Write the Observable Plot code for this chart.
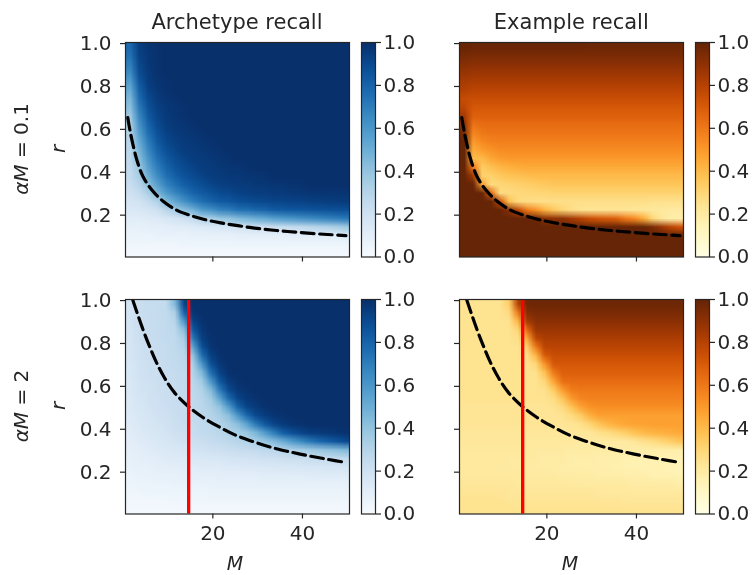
<!DOCTYPE html>
<html><head><meta charset="utf-8">
<script src="https://cdn.jsdelivr.net/npm/d3@7"></script>
<script src="https://cdn.jsdelivr.net/npm/@observablehq/plot@0.6"></script>
<style>
html,body{margin:0;padding:0;background:#fff;}
#fig{position:relative;width:752px;height:575px;overflow:hidden;font-family:"DejaVu Sans",sans-serif;color:#262626;filter:blur(0.4px);}
#fig>*{position:absolute;}
.t{font-size:20px;white-space:nowrap;transform:translate(-50%,-50%);line-height:1;}
.title{font-size:21px;}
.xl{font-size:19px;}
.v{transform:translate(-50%,-50%) rotate(-90deg);}
svg{display:block;overflow:visible;}
</style></head><body><div id="fig"></div>
<script>
const titles = ["Archetype recall", "Example recall"];
const rowLabels = ["0.1", "2"];
const rTicks = [0.2, 0.4, 0.6, 0.8, 1.0];
const mTicks = [20, 40];
const barTicks = [0, 0.2, 0.4, 0.6, 0.8, 1.0];

// dashed curves
const curveM1 = [1.0,1.5,2.1,3,4.4,6.3,8.9,11.8,14.4,18.1,21.8,25.6,29.3,33,36.7,41.2,45.6,49.7];
const curveR1 = [.655,.595,.535,.46,.38,.32,.265,.225,.203,.18,.164,.151,.14,.131,.124,.116,.11,.105];
const curveM2 = [2.16,4.4,5.9,7.4,9.2,11.4,14.6,17.8,21.5,24.8,28.9,33,36.7,41.2,45.6,49.7];
const curveR2 = [1.0,.865,.785,.712,.64,.572,.505,.455,.41,.375,.343,.316,.297,.277,.26,.245];
const redM = [14.6];

// recall in percent; rows run from r = 1 downward, columns from M = 1 upward.
// A row shorter than the grid holds its last value to the right edge.
const archetypeLow = [
[78,94,98,99,100],[75,93,97,99,100],[70,91,97,99,100],[65,89,96,99,100],
[58,85,95,98,99,100],[52,81,93,97,99,100],[46,77,90,96,98,99,100],[42,72,87,94,97,98,99,100],
[37,67,84,92,96,98,99,100],[33,62,80,90,95,97,98,99,100],[31,57,76,87,93,96,97,98,99,100],
[29,52,71,84,91,94,96,97,98,99,100],[28,47,66,80,88,92,95,96,97,98,99,100],
[27,43,61,75,84,89,93,95,96,97,98,99,100],[26,38,56,70,80,86,90,93,95,96,97,98,98,99,100],
[25,34,50,64,75,82,87,90,93,95,96,97,97,98,98,99,100],
[23,29,42,56,68,76,82,86,89,92,94,95,96,96,97,97,98,98,99,99,100],
[20,24,33,46,58,67,74,80,84,87,90,91,93,94,95,95,96,96,97,97,98],
[17,19,24,31,44,53,62,70,76,80,84,85,88,89,90,91,92,92,93,93,94,94,95,95,96],
[14,15,17,20,28,35,42,48,58,62,68,70,75,76,79,80,83,84,85,85,86,87,87,88,88],
[11,11,12,13,15,17,20,24,30,33,38,40,44,47,50,52,56,58,60,62,64,66,68,70,72],
[8,8,9,9,10,11,11,12,13,14,15,16,17,18,19,20,21,22,24,25,27,29,31,33,36],
[6,6,6,7,7,7,7,8,8,8,8,8,9,9,9,9,9,9,10,10,10,10,10,11,11],
[4,4,4,4,4,4,5,5,5,5,5,5,5,5,5,5,5,5,5,5,5,5,5,5,5],
[2,2,2,2,2,2,2,2,2,2,2,2,2,2,2,2,2,2,2,2,2,2,2,2,2]];

const exampleLow = [
[100,99,99,99,99,99,99,99,99,99,99,99,99,99,98],
[96,95],[92,91],[88,87],[84,83],[81,79],[76,75],[78,71],[84,68,68],
[90,62,64],[96,56,60,61],[100,50,55,57,58],[100,44,49,52,54],[100,40,40,46,49,50],
[100,60,34,38,41,43,44,45],[100,85,32,32,35,37,38,39,40],[100,100,48,28,30,31,32,33,34,35,36],
[100,100,100,65,27,28,29,29,30,30,31],[100,100,100,100,75,38,28,27,26,26,26,26,26,26,26,26,26,26,26,26,26,25,25,25,25],
[100,100,100,100,100,92,78,60,52,42,35,30,26,24,23,23,23,23,23,22,22,21,21,20,20],
[100,100,100,100,100,100,100,100,100,92,90,90,85,80,75,72,70,68,60,55,45,30,22,18,17],
[100,100,100,100,100,100,100,100,100,100,100,100,100,100,100,100,100,100,100,100,100,95,88,80,75],
[100],[100],[100]];

const archetypeHigh = [
[18,22,24,24,25,45,92,100],[18,22,24,24,25,33,80,98,100],[18,22,23,24,25,29,60,93,99,100],
[18,21,23,24,25,27,42,85,97,100],[17,21,23,24,25,26,34,72,94,99,100],[17,20,22,23,24,26,30,55,88,98,100],
[17,20,22,23,24,25,28,40,76,94,99,100],[16,19,21,22,24,25,27,33,60,88,97,100],
[16,19,21,22,23,24,26,30,45,76,93,99,100],[15,18,20,21,23,24,26,28,36,60,85,96,99,100],
[15,18,19,21,22,24,25,27,31,44,72,90,97,99,100],[14,17,19,20,22,23,25,26,29,36,55,78,92,97,99,100],
[14,16,18,20,21,23,24,26,28,32,40,58,80,92,96,99,100],[13,15,17,19,20,22,24,25,27,30,34,42,60,78,90,95,98,99,100],
[12,14,16,18,19,21,23,24,26,28,31,35,42,55,72,84,92,96,98,99,100],
[11,13,15,16,18,20,21,23,25,26,28,31,34,38,46,58,70,82,88,92,95,96,97,98,99],
[10,12,13,15,16,18,19,21,22,24,25,27,29,31,34,38,44,50,58,65,72,78,82,86,90],
[9,10,11,13,14,15,16,18,19,20,21,22,23,24,25,27,28,30,32,34,36,38,40,42,45],
[8,9,10,11,12,13,13,14,15,16,16,17,18,18,19,20,20,21,22,22,23,24,24,25,26],
[7,8,8,9,10,10,11,11,12,12,12,13,13,14,14,14,15,15,15,16,16,16,17,17,17],
[6,7,7,8,8,8,9,9,9,9,10,10,10,10,10,11,11,11,11,11,12,12,12,12,12],
[5,6,6,6,6,7,7,7,7,7,8,8,8,8,8,8,8,8,8,8,8,8,8,8,8],
[4,4,5,5,5,5,5,5,5,6,6,6,6,6,6,6,6,6,6,6,6,6,6,6,6],
[3,3,3,3,3,4,4,4,4,4,4,4,4,4,4,4,4,4,4,4,4,4,4,4,4],
[2]];

const exampleHigh = [
[24,24,24,24,24,33,80,98],[24,24,24,24,24,28,60,93,95],[24,24,24,24,24,24,42,85,91],
[24,24,24,24,24,24,30,65,87],[24,24,24,24,24,24,26,45,78,83],[24,24,24,24,24,24,24,32,60,79],
[24,24,24,24,24,24,24,26,42,70,75],[24,24,24,24,24,24,24,24,30,52,71],
[24,24,24,24,24,24,24,24,25,38,60,68],[24,24,24,24,24,24,24,24,24,30,47,63,64],
[24,24,24,24,24,24,24,24,24,25,34,50,59,60],[24,24,24,24,24,24,24,24,24,24,27,37,50,56,57],
[23,23,23,23,23,23,23,23,23,23,24,28,37,47,52,53],[23,23,23,23,23,23,23,23,23,23,23,24,28,34,43,48],
[23,23,23,23,23,23,23,23,23,23,23,23,23,25,30,36,41,44,46,47,47,48,48,48,48],
[22,22,22,22,22,22,22,22,22,22,22,22,22,22,22,25,27,30,33,37,40,42,43,44,45],
[22,22,22,22,22,22,22,21,21,21,21,21,21,20,20,20,20,20,20,22,25,27,30,33,36],
[21,21,21,21,21,21,21,21,20,20,20,20,19,19,19,19,19,19,19,18,18,18,18,18,18],
[21,21,21,21,21,20,20,20,20,19,19,19,18,18,18,17,17,17,16,16,16,16,15,15,15],
[21,21,21,20,20,20,20,20,19,19,19,18,18,18,17,17,17,16,16,16,15,15,15,14,14],
[21,21,21,21,21,21,20,20,20,20,20,19,19,19,19,18,18,18,17,17,17,16,16,16,15],
[22,22,22,22,22,22,21,21,21,21,21,21,21,20,20,20,20,20,20,19,19,19,19,19,18],
[23,23,23,23,23,22,22,22,22,22,22,22,22,22,22,21,21,21,21,21,21,21,21,21,21],
[24,24,24,24,24,23,23,23,23,23,23,23,23,23,23,23,23,23,22,22,22,22,22,22,22],
[24]];

const COLS = 25, ROWS = 25;
const flat = rows => rows.flatMap(r => Array.from({length: COLS}, (_, i) => (i < r.length ? r[i] : r[r.length-1]) / 100));
const fig = document.getElementById("fig");
const font = {fontFamily: '"DejaVu Sans", sans-serif', color: "#262626", background: "transparent"};
const colX = [125, 459.3], rowY = [42, 299], W = 224, H = 214.5;
const ml = 50, mt = 4, mb = 32, mr = 4;

function place(node, left, top) { node.style.left = left + "px"; node.style.top = top + "px"; fig.appendChild(node); }

function panel(values, scheme, cm, cr, red, showX, showY) {
  return Plot.plot({
    width: W + ml + mr, height: H + mt + mb, marginLeft: ml, marginRight: mr, marginTop: mt, marginBottom: mb,
    style: font,
    x: {domain: [0.5, 50.5]}, y: {domain: [0.005, 1.005]},
    color: {type: "linear", scheme, domain: [0, 1]},
    marks: [
      Plot.raster(flat(values), {width: COLS, height: ROWS, x1: 0.5, x2: 50.5, y1: 1.005, y2: 0.005, fill: d => d}),
      Plot.line(cm, {x: cm, y: cr, stroke: "#000", strokeWidth: 3.2, strokeDasharray: "12.6,5.6", curve: "catmull-rom"}),
      red ? Plot.ruleX(redM, {stroke: "#ff0000", strokeWidth: 3.3}) : null,
      Plot.frame({stroke: "#262626", strokeWidth: 1.2}),
      Plot.axisX({ticks: mTicks, tickSize: 5, tickPadding: 7, fontSize: 20, label: null, strokeWidth: 1.2, stroke: "#262626",
        tickFormat: showX ? (d => d) : (() => "")}),
      Plot.axisY({ticks: rTicks, tickSize: 5, tickPadding: 9, fontSize: 20, label: null, strokeWidth: 1.2, stroke: "#262626",
        tickFormat: showY ? (d => d.toFixed(1)) : (() => "")})
    ]
  });
}

const levels = d3.range(255, -1, -1).map(i => i / 255);
function colorbar(scheme) {
  return Plot.plot({
    width: 14 + 2 + 50, height: H + mt + mb, marginLeft: 2, marginRight: 50, marginTop: mt, marginBottom: mb,
    style: font,
    x: {domain: [0, 1], axis: null}, y: {domain: [0, 1]},
    color: {type: "linear", scheme, domain: [0, 1]},
    marks: [
      Plot.raster(levels, {width: 1, height: levels.length, x1: 0, x2: 1, y1: 1, y2: 0, fill: d => d}),
      Plot.frame({stroke: "#262626", strokeWidth: 1.2}),
      Plot.axisY({anchor: "right", ticks: barTicks, tickSize: 5, tickPadding: 3, fontSize: 20, label: null, strokeWidth: 1.2, stroke: "#262626", tickFormat: d => d.toFixed(1)})
    ]
  });
}

const grids = [[archetypeLow, exampleLow], [archetypeHigh, exampleHigh]];
const schemes = ["blues", "ylorbr"];
const curves = [[curveM1, curveR1], [curveM2, curveR2]];
grids.forEach((row, ri) => row.forEach((vals, ci) => {
  place(panel(vals, schemes[ci], curves[ri][0], curves[ri][1], ri === 1, ri === 1, ci === 0), colX[ci] - ml, rowY[ri] - mt);
  place(colorbar(schemes[ci]), colX[ci] + 236 - 2, rowY[ri] - mt);
}));

function label(html, x, y, vertical, cls) {
  const d = document.createElement("div");
  d.className = "t" + (vertical ? " v" : "") + (cls ? " " + cls : "");
  d.innerHTML = html;
  place(d, x, y);
}
titles.forEach((t, i) => label(t, colX[i] + 112, 22, false, "title"));
label("<i>M</i>", 235, 563, false, "xl");
label("<i>M</i>", 570, 563, false, "xl");
rowLabels.forEach((v, i) => {
  const cy = rowY[i] + 107;
  label("<i>r</i>", 58, cy, true);
  label("<i>αM</i> = " + v, 21, cy, true);
});
</script></body></html>
